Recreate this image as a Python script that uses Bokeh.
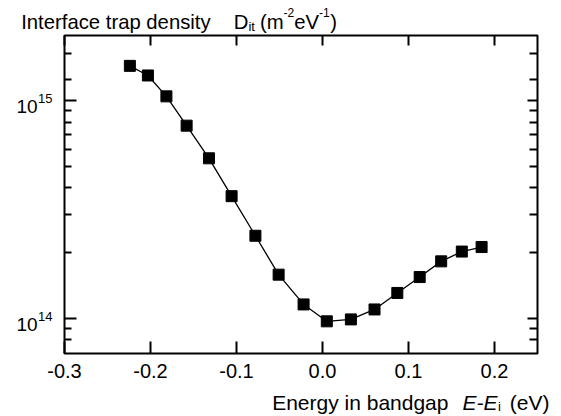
from bokeh.plotting import figure
from bokeh.models import (Range1d, LogAxis, LinearAxis, FixedTicker, ColumnDataSource,
                          NumeralTickFormatter, CustomJSTickFormatter)
from bokeh.core.properties import value
from bokeh.embed import file_html
from bokeh.resources import INLINE

# ---- data ----
energy = [-0.224, -0.203, -0.1815, -0.158, -0.132, -0.1057, -0.078, -0.051, -0.022,
          0.005, 0.033, 0.0605, 0.087, 0.113, 0.138, 0.162, 0.185]
dit = [1.45e15, 1.31e15, 1.05e15, 7.7e14, 5.45e14, 3.65e14, 2.40e14, 1.59e14, 1.16e14,
       0.97e14, 0.99e14, 1.10e14, 1.31e14, 1.55e14, 1.83e14, 2.03e14, 2.13e14]

x_ticks = [-0.3, -0.2, -0.1, 0.0, 0.1, 0.2]
y_major = [1e14, 1e15]
y_major_exp = ["14", "15"]
y_minor = [8e13, 9e13, 2e14, 3e14, 4e14, 5e14, 6e14, 7e14, 8e14, 9e14, 1.25e15, 1.65e15]
y_title_parts = ["Interface trap density", "D", "it", "(m", "-2", "eV", "-1", ")"]
x_title_parts = ["Energy in bandgap", "E-E", "i", "(eV)"]

FONT = "Liberation Sans"
FS = 20

W = {' ': 278, '(': 333, ')': 333, '-': 333, '.': 278}
for ch in "0123456789":
    W[ch] = 556
W.update(dict(zip("abcdefghijklmnopqrstuvwxyz",
                  [556, 556, 500, 556, 556, 278, 556, 556, 222, 222, 500, 222, 833, 556, 556, 556,
                   556, 333, 500, 278, 556, 500, 722, 500, 500, 500])))
W.update(dict(zip("ABCDEFGHIJKLMNOPQRSTUVWXYZ",
                  [667, 667, 722, 722, 667, 611, 778, 722, 278, 500, 667, 556, 833, 722, 778, 667,
                   778, 722, 667, 611, 722, 667, 944, 667, 667, 611])))


def tw(s, size):
    return sum(W.get(c, 556) for c in s) * size / 1000.0


X0, X1 = -0.3, 0.25
Y0, Y1 = 6.9e13, 2.0e15

p = figure(width=555, height=415, output_backend="svg", toolbar_location=None,
           x_range=Range1d(X0, X1), y_range=Range1d(Y0, Y1), y_axis_type="log",
           min_border_left=64, min_border_right=18, min_border_top=35, min_border_bottom=62)
p.background_fill_color = "white"
p.border_fill_color = "white"
p.outline_line_color = "black"
p.outline_line_width = 2
p.xgrid.visible = False
p.ygrid.visible = False

blank = CustomJSTickFormatter(code="return ''")

p.xaxis.ticker = FixedTicker(ticks=x_ticks, minor_ticks=[])
p.xaxis.formatter = NumeralTickFormatter(format="0.0")
p.yaxis.ticker = FixedTicker(ticks=y_major, minor_ticks=y_minor)
p.yaxis.formatter = blank

for ax in [p.xaxis[0], p.yaxis[0]]:
    ax.axis_line_color = None
    ax.major_tick_in = 12
    ax.major_tick_out = 0
    ax.minor_tick_in = 7
    ax.minor_tick_out = 0
    ax.major_tick_line_width = 2
    ax.minor_tick_line_width = 2
    ax.major_label_text_font = FONT
    ax.major_label_text_font_size = f"{FS}px"
    ax.major_label_text_color = "black"
p.xaxis.major_label_standoff = 10
p.yaxis.major_label_standoff = 4

top = LinearAxis(ticker=FixedTicker(ticks=x_ticks, minor_ticks=[]), axis_line_color=None,
                 major_tick_in=10, major_tick_out=0, major_tick_line_width=2,
                 minor_tick_line_color=None, formatter=blank)
p.add_layout(top, "above")
right = LogAxis(ticker=FixedTicker(ticks=y_major, minor_ticks=y_minor), axis_line_color=None,
                major_tick_in=10, major_tick_out=0, minor_tick_in=8, minor_tick_out=0,
                major_tick_line_width=2, minor_tick_line_width=2, formatter=blank)
p.add_layout(right, "right")

p.line(energy, dit, line_color="black", line_width=1.3)
p.scatter(energy, dit, marker="square", size=11, fill_color="black", line_color="black")

# ---- rich text built from pieces: (size, style, dy, gap_before) per piece ----
cols = dict(x=[], y=[], text=[], xo=[], yo=[], fs=[], st=[])


def add_text(parts, styles, x, y, x_off, y_off, align="left"):
    total = sum(g + tw(t, s) for t, (s, st, dy, g) in zip(parts, styles))
    cur = x_off - (total if align == "right" else 0)
    for t, (s, st, dy, g) in zip(parts, styles):
        cur += g
        cols["x"].append(x)
        cols["y"].append(y)
        cols["text"].append(t)
        cols["xo"].append(cur)
        cols["yo"].append(y_off + dy)
        cols["fs"].append(f"{s}px")
        cols["st"].append(st)
        cur += tw(t, s)


# y tick labels "10" + superscript exponent
for val, ex in zip(y_major, y_major_exp):
    add_text(["10", ex], [(19, "normal", 0, 0), (13, "normal", -8, 0.5)],
             X0, val, -12, 6, align="right")

TS = 20.3
add_text(y_title_parts,
         [(TS, "normal", 0, 0), (TS, "normal", 0, 23), (13, "normal", 5, 0),
          (TS, "normal", 0, 5), (12, "normal", -9, 0), (TS, "normal", 0, 0),
          (12, "normal", -9, 0), (TS, "normal", 0, 0.5)],
         X0, Y1, -43.3, -14)
XS = 21
add_text(x_title_parts,
         [(XS, "normal", 0, 0), (XS, "italic", 0, 14), (13, "normal", 4, 0.5),
          (XS, "normal", 0, 9)],
         X1, Y0, 12, 49, align="right")

src = ColumnDataSource(cols)
p.text(x="x", y="y", text="text", x_offset="xo", y_offset="yo", source=src,
       text_font=value(FONT), text_font_size="fs", text_font_style="st",
       text_color="black", text_baseline="alphabetic", text_align="left", level="overlay")

open("out.html", "w").write(file_html(p, INLINE))
